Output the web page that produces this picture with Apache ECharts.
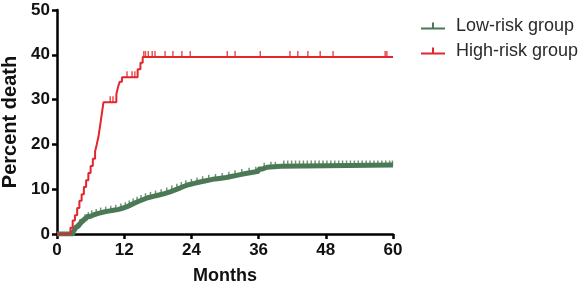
<!DOCTYPE html>
<html>
<head>
<meta charset="utf-8">
<script src="https://cdn.jsdelivr.net/npm/echarts@6/dist/echarts.min.js"></script>
<style>
  html, body { margin: 0; padding: 0; background: #fff; }
  #chart { width: 583px; height: 288px; }
</style>
</head>
<body>
<div id="chart"></div>
<script>
// 时间刻度和分组名
const xTicks = [0, 12, 24, 36, 48, 60]
const yTicks = [0, 10, 20, 30, 40, 50]
const groups = ['Low-risk group', 'High-risk group']

// 高风险组 累计死亡 (月, %)
const highTimes = [0, 2.4, 2.8, 3.2, 3.6, 4.0, 4.4, 4.8, 5.2, 5.6, 6.0, 6.4, 6.8, 7.1, 7.4, 7.7, 8.0, 8.3, 10.6, 10.9, 11.2, 11.6, 14.4, 14.9, 15.3, 60]
const highValues = [0, 1.4, 3.0, 4.2, 5.8, 7.4, 8.9, 10.5, 12.0, 13.6, 15.2, 16.8, 18.4, 20.0, 21.7, 24.2, 26.8, 29.4, 31.2, 32.8, 34.0, 35.0, 36.8, 38.2, 39.5, 39.5]
const highCensor = [9.5, 10.0, 12.5, 13.4, 13.9, 15.5, 15.8, 16.3, 17.0, 17.5, 19.3, 20.7, 22.3, 23.8, 30.4, 31.8, 36.3, 41.6, 43.0, 44.8, 47.0, 49.3, 58.6, 58.9]

// 低风险组
const lowTimes = [0, 2.9, 3.2, 3.5, 3.9, 4.3, 4.8, 5.3, 5.9, 6.6, 7.4, 8.3, 9.2, 10.1, 11.0, 11.8, 12.5, 13.2, 13.9, 14.6, 15.4, 16.2, 17.2, 18.2, 19.2, 20.2, 21.0, 21.8, 22.6, 23.5, 24.5, 25.5, 26.6, 27.8, 29.0, 30.2, 31.3, 32.5, 33.7, 35.0, 36.0, 36.6, 37.5, 40.0, 60]
const lowValues = [0, 0.5, 1.1, 1.7, 2.3, 2.9, 3.4, 3.9, 4.3, 4.6, 4.9, 5.1, 5.3, 5.5, 5.8, 6.1, 6.5, 6.9, 7.3, 7.7, 8.1, 8.4, 8.7, 9.0, 9.4, 9.8, 10.2, 10.6, 11.0, 11.3, 11.6, 11.9, 12.2, 12.4, 12.6, 12.9, 13.2, 13.5, 13.8, 14.0, 14.5, 14.9, 15.1, 15.4, 15.4]
const lowCensor = [4.1, 5.0, 5.6, 6.2, 7.0, 7.8, 8.7, 9.6, 10.5, 11.4, 12.2, 12.9, 13.6, 14.3, 15.0, 15.8, 16.7, 17.6, 18.6, 19.6, 20.5, 21.4, 22.2, 23.0, 24.0, 25.0, 26.0, 27.1, 28.3, 29.5, 30.7, 31.8, 33.0, 34.3, 35.5, 37.0, 38.2, 39.0, 40.5, 41.2, 41.9, 42.6, 43.3, 44.0, 44.7, 45.4, 46.1, 46.8, 47.5, 48.2, 48.9, 49.6, 50.3, 51.0, 51.7, 52.4, 53.1, 53.8, 54.5, 55.2, 55.9, 56.6, 57.3, 58.0, 58.7, 59.4, 59.9]

const red = '#e2262c'
const green = '#4b7956'

function toPairs(times, values) {
  return times.map((t, i) => [t, values[i]])
}
// 删失点取所在台阶的值
function censorPairs(times, values, cens) {
  return cens.map(t => {
    let v = 0
    for (let i = 0; i < times.length; i++) {
      if (times[i] <= t) v = values[i]
    }
    return [t, v]
  })
}

const tickIcon = 'path://M0,6h24v2H0z M11,1h2v6h-2z'
const censorSymbol = 'path://M0,0h1v6H0z'
const font = 'Liberation Sans, Arial'

const chart = echarts.init(document.getElementById('chart'))
chart.setOption({
  animation: false,
  grid: { left: 57, right: 190, top: 10, bottom: 54, containLabel: false, outerBoundsMode: 'none' },
  legend: {
    orient: 'vertical',
    left: 416,
    top: 12,
    itemWidth: 24,
    itemHeight: 8,
    itemGap: 7,
    textStyle: { fontSize: 18, color: '#2a2a2a', fontFamily: font, padding: [0, 0, 0, 6] },
    data: groups.map(g => ({ name: g, icon: tickIcon }))
  },
  xAxis: {
    type: 'value',
    min: 0,
    max: 60,
    interval: 12,
    name: 'Months',
    nameLocation: 'middle',
    nameGap: 33,
    nameTextStyle: { fontSize: 18, fontWeight: 'bold', color: '#111', fontFamily: font },
    axisLine: { lineStyle: { color: '#000', width: 2.5 } },
    axisTick: { length: 5, lineStyle: { color: '#000', width: 2.5 } },
    axisLabel: { fontSize: 17, fontWeight: 'bold', color: '#111', margin: 8, fontFamily: font,
      customValues: xTicks },
    splitLine: { show: false }
  },
  yAxis: {
    type: 'value',
    min: 0,
    max: 50,
    interval: 10,
    name: 'Percent death',
    nameLocation: 'middle',
    nameGap: 30,
    nameTextStyle: { fontSize: 20, fontWeight: 'bold', color: '#111', fontFamily: font },
    axisLine: { show: true, lineStyle: { color: '#000', width: 2.5 } },
    axisTick: { show: true, length: 5, lineStyle: { color: '#000', width: 2.5 } },
    axisLabel: { fontSize: 17, fontWeight: 'bold', color: '#111', margin: 7, fontFamily: font,
      customValues: yTicks },
    splitLine: { show: false }
  },
  series: [
    {
      name: groups[0],
      type: 'line',
      step: 'end',
      symbol: 'none',
      z: 2,
      color: green,
      lineStyle: { color: green, width: 5 },
      data: toPairs(lowTimes, lowValues)
    },
    {
      name: groups[0],
      type: 'scatter',
      symbol: censorSymbol,
      symbolSize: [1.5, 5],
      symbolOffset: [0, -2],
      z: 2,
      itemStyle: { color: green },
      data: censorPairs(lowTimes, lowValues, lowCensor)
    },
    {
      name: groups[1],
      type: 'line',
      step: 'end',
      symbol: 'none',
      z: 3,
      color: red,
      lineStyle: { color: red, width: 2 },
      data: toPairs(highTimes, highValues)
    },
    {
      name: groups[1],
      type: 'scatter',
      symbol: censorSymbol,
      symbolSize: [1.5, 6],
      symbolOffset: [0, -3],
      z: 3,
      itemStyle: { color: red },
      data: censorPairs(highTimes, highValues, highCensor)
    }
  ]
})
</script>
</body>
</html>
